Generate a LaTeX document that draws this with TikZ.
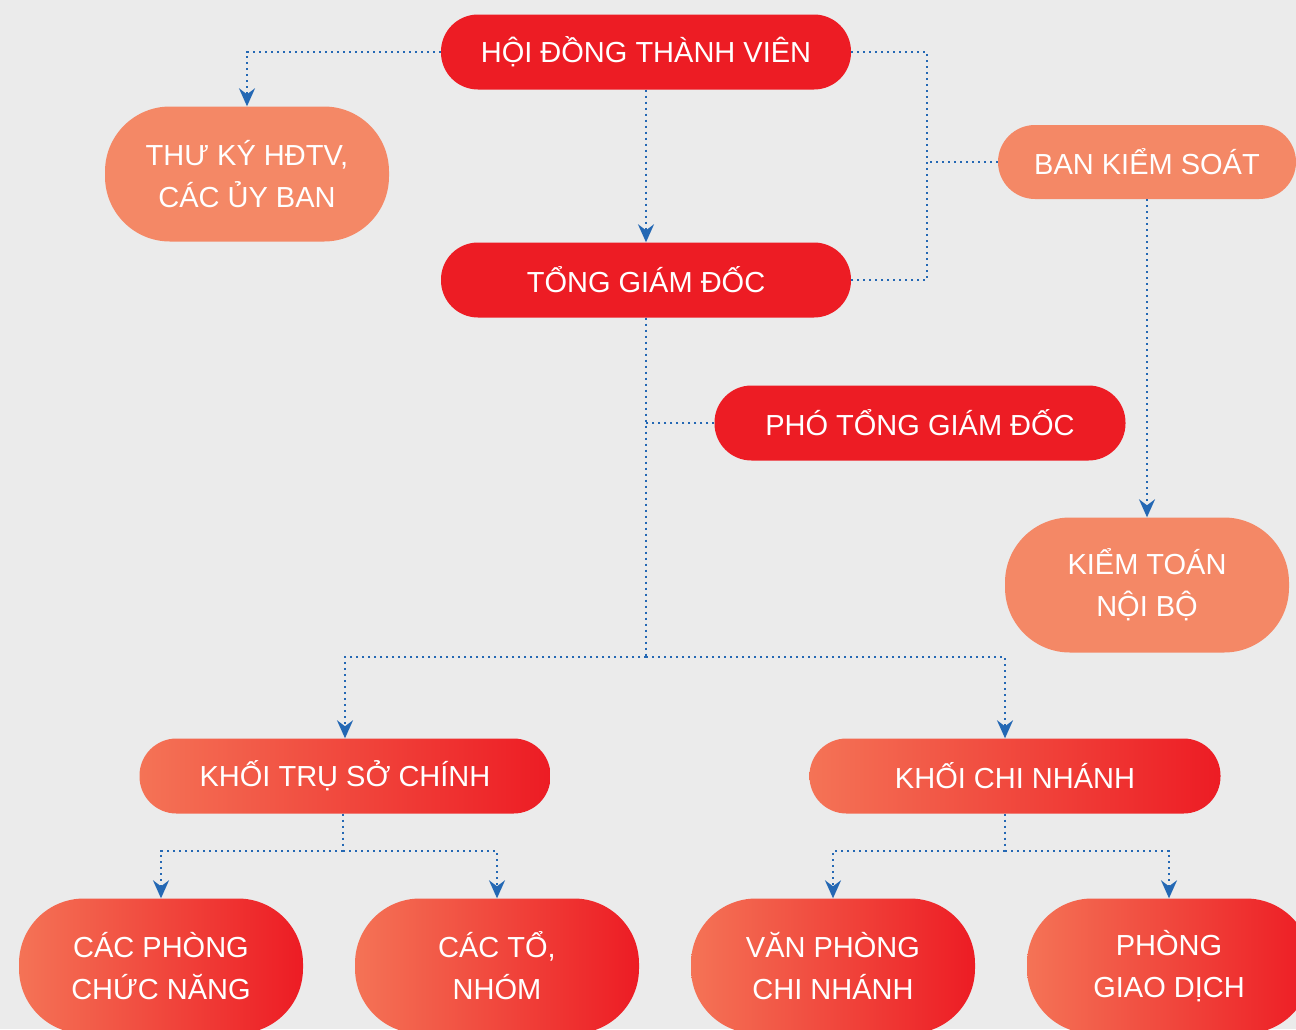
\documentclass[tikz,border=0pt]{standalone}
\usepackage{fontspec}
\setmainfont{Liberation Sans}
\usetikzlibrary{arrows.meta}
\definecolor{bggrey}{HTML}{EBEBEB}
\definecolor{boardred}{HTML}{ED1C24}
\definecolor{salmon}{HTML}{F48866}
\definecolor{fadered}{HTML}{F47356}
\definecolor{linkblue}{HTML}{2468B4}
\begin{document}
\begin{tikzpicture}
    [x=1pt,y=-1pt,inner sep=0pt,text=white,align=center,
     font=\fontsize{29}{42}\selectfont,
     head/.style={fill=boardred,rounded corners=37pt,minimum width=410pt,minimum height=75pt},
     aide/.style={fill=salmon,rounded corners=37pt,minimum width=298pt,minimum height=74pt},
     bigaide/.style={fill=salmon,rounded corners=65pt,minimum width=284pt,minimum height=135pt},
     unit/.style={shading=axis,left color=fadered,right color=boardred,rounded corners=37pt,minimum width=411pt,minimum height=75pt},
     subunit/.style={shading=axis,left color=fadered,right color=boardred,rounded corners=65pt,minimum width=284pt,minimum height=135pt},
     link/.style={linkblue,line width=2.2pt,dash pattern=on 2.2pt off 3.8pt},
     tip/.style={-{Stealth[length=18pt,width=16pt,inset=6pt]}}]

    % background:
    \fill [bggrey] (0, 0) rectangle (1296, 1029);
    \useasboundingbox (0, 0) rectangle (1296, 1029);
    \clip (0, 0) rectangle (1296, 1029);

    % board and its staff:
    \node (board) at (646, 52) [head] {HỘI ĐỒNG THÀNH VIÊN};
    \node (secretary) at (247, 174) [bigaide] {THƯ KÝ HĐTV,\\CÁC ỦY BAN};
    \node (control) at (1147, 162) [aide] {BAN KIỂM SOÁT};
    \node (audit) at (1147, 585) [bigaide] {KIỂM TOÁN\\NỘI BỘ};

    % management:
    \node (ceo) at (646, 280) [head] {TỔNG GIÁM ĐỐC};
    \node (deputy) at (920, 423) [head,minimum width=411pt] {PHÓ TỔNG GIÁM ĐỐC};

    % blocks:
    \node (hq) at (345, 776) [unit] {KHỐI TRỤ SỞ CHÍNH};
    \node (branch) at (1015, 776) [unit] {KHỐI CHI NHÁNH};

    % departments:
    \node (func) at (161, 966) [subunit] {CÁC PHÒNG\\CHỨC NĂNG};
    \node (teams) at (497, 966) [subunit] {CÁC TỔ,\\NHÓM};
    \node (office) at (833, 966) [subunit] {VĂN PHÒNG\\CHI NHÁNH};
    \node (desk) at (1169, 966) [subunit] {PHÒNG\\GIAO DỊCH};

    % junctions:
    \coordinate (split) at (646, 657);
    \coordinate (hqsplit) at (343, 851);
    \coordinate (brsplit) at (1005, 851);

    % connect nodes:
    \draw [link,tip] (board.west) -| (secretary.north);
    \draw [link,tip] (board) -- (ceo);
    \draw [link] (board.east) -- ++(76, 0) |- (ceo.east);
    \draw [link] (control.west) -- ++(-71, 0);
    \draw [link,tip] (control) -- (audit);

    \draw [link] (ceo) -- (split);
    \draw [link] (deputy.west) -- (deputy.west -| ceo);
    \draw [link,tip] (split) -| (hq.north);
    \draw [link,tip] (split) -| (branch.north -| brsplit);

    \draw [link] (hq.south -| hqsplit) -- (hqsplit);
    \draw [link,tip] (hqsplit) -| (func.north);
    \draw [link,tip] (hqsplit) -| (teams.north);

    \draw [link] (branch.south -| brsplit) -- (brsplit);
    \draw [link,tip] (brsplit) -| (office.north);
    \draw [link,tip] (brsplit) -| (desk.north);

\end{tikzpicture}
\end{document}
